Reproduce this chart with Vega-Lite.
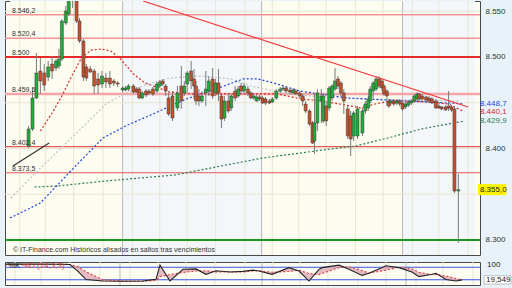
{
"$schema": "https://vega.github.io/schema/vega-lite/v6.json",
"background": "#e8f2f8",
"padding": {"left": 2, "top": 0, "right": 0, "bottom": 0},
"spacing": 4,
"config": {"view": {"stroke": "#4a4a4a", "strokeWidth": 1, "fill": "#fcfcf1"}, "font": "Liberation Sans",
 "axisY": {"grid": false, "ticks": false, "domain": false, "labelPadding": 5, "labelFontSize": 8, "labelColor": "#333"}},
"datasets": {
"candles": [
{"x":21,"o":8402.7,"h":8424.6,"l":8400.5,"c":8421.3},
{"x":25,"o":8421.3,"h":8465.0,"l":8419.1,"c":8455.2},
{"x":29,"o":8455.2,"h":8504.4,"l":8454.1,"c":8482.5},
{"x":33,"o":8484.7,"h":8498.9,"l":8459.6,"c":8473.8},
{"x":37,"o":8482.5,"h":8492.3,"l":8462.8,"c":8469.4},
{"x":41,"o":8478.1,"h":8495.6,"l":8473.8,"c":8489.1},
{"x":45,"o":8492.3,"h":8501.1,"l":8476.0,"c":8484.7},
{"x":49,"o":8488.0,"h":8497.8,"l":8484.7,"c":8495.6},
{"x":52,"o":8490.2,"h":8508.8,"l":8486.9,"c":8497.8},
{"x":55,"o":8497.8,"h":8541.5,"l":8495.6,"c":8539.3},
{"x":59,"o":8537.2,"h":8555.7,"l":8535.0,"c":8550.3},
{"x":62,"o":8547.0,"h":8572.0,"l":8544.8,"c":8566.0},
{"x":66,"o":8575.0,"h":8580.0,"l":8553.6,"c":8565.0},
{"x":70,"o":8561.0,"h":8566.0,"l":8537.2,"c":8539.3},
{"x":73,"o":8539.3,"h":8542.6,"l":8515.3,"c":8517.5},
{"x":77,"o":8517.5,"h":8519.7,"l":8473.8,"c":8478.1},
{"x":80,"o":8489.1,"h":8492.3,"l":8473.8,"c":8477.0},
{"x":84,"o":8486.9,"h":8490.2,"l":8482.5,"c":8483.6},
{"x":88,"o":8484.7,"h":8486.9,"l":8459.6,"c":8468.3},
{"x":92,"o":8476.0,"h":8482.5,"l":8459.6,"c":8469.4},
{"x":96,"o":8470.5,"h":8484.7,"l":8466.1,"c":8479.2},
{"x":100,"o":8477.0,"h":8482.5,"l":8466.1,"c":8472.7},
{"x":104,"o":8477.0,"h":8484.7,"l":8466.1,"c":8470.5},
{"x":108,"o":8473.8,"h":8476.0,"l":8468.3,"c":8471.6},
{"x":112,"o":8471.6,"h":8473.8,"l":8467.2,"c":8470.5},
{"x":117,"o":8463.9,"h":8468.3,"l":8461.7,"c":8466.1},
{"x":120,"o":8463.9,"h":8468.3,"l":8462.8,"c":8466.1},
{"x":123,"o":8465.0,"h":8470.5,"l":8462.8,"c":8468.3},
{"x":128,"o":8468.3,"h":8470.5,"l":8459.6,"c":8461.7},
{"x":131,"o":8465.0,"h":8467.2,"l":8460.7,"c":8461.7},
{"x":134,"o":8465.0,"h":8467.2,"l":8454.1,"c":8455.2},
{"x":137,"o":8455.2,"h":8462.8,"l":8454.1,"c":8460.7},
{"x":141,"o":8462.8,"h":8465.0,"l":8456.3,"c":8458.5},
{"x":144,"o":8462.8,"h":8465.0,"l":8458.5,"c":8460.7},
{"x":148,"o":8465.0,"h":8467.2,"l":8457.4,"c":8459.6},
{"x":152,"o":8462.8,"h":8472.7,"l":8460.7,"c":8470.5},
{"x":155,"o":8468.3,"h":8474.9,"l":8466.1,"c":8472.7},
{"x":158,"o":8473.8,"h":8476.0,"l":8468.3,"c":8470.5},
{"x":161,"o":8468.3,"h":8470.5,"l":8457.4,"c":8462.8},
{"x":164,"o":8455.2,"h":8460.7,"l":8435.5,"c":8437.7},
{"x":168,"o":8457.4,"h":8462.8,"l":8430.1,"c":8433.3},
{"x":173,"o":8444.3,"h":8468.3,"l":8441.0,"c":8460.7},
{"x":177,"o":8468.3,"h":8490.2,"l":8443.2,"c":8451.9},
{"x":180,"o":8460.7,"h":8473.8,"l":8457.4,"c":8468.3},
{"x":183,"o":8470.5,"h":8484.7,"l":8460.7,"c":8482.5},
{"x":187,"o":8484.7,"h":8495.6,"l":8465.0,"c":8473.8},
{"x":190,"o":8476.0,"h":8487.0,"l":8454.1,"c":8468.3},
{"x":192,"o":8468.3,"h":8473.8,"l":8447.5,"c":8451.9},
{"x":195,"o":8457.4,"h":8465.0,"l":8446.4,"c":8451.9},
{"x":198,"o":8451.9,"h":8462.8,"l":8449.7,"c":8457.4},
{"x":202,"o":8460.7,"h":8484.7,"l":8446.4,"c":8465.0},
{"x":205,"o":8462.8,"h":8479.2,"l":8457.4,"c":8473.8},
{"x":209,"o":8476.0,"h":8488.0,"l":8454.1,"c":8457.4},
{"x":212,"o":8460.7,"h":8476.0,"l":8457.4,"c":8471.6},
{"x":215,"o":8471.6,"h":8486.9,"l":8451.9,"c":8460.7},
{"x":218,"o":8457.4,"h":8460.7,"l":8422.4,"c":8432.2},
{"x":221,"o":8433.3,"h":8457.4,"l":8430.1,"c":8451.9},
{"x":225,"o":8451.9,"h":8460.7,"l":8438.8,"c":8441.0},
{"x":228,"o":8444.3,"h":8459.6,"l":8441.0,"c":8457.4},
{"x":232,"o":8462.8,"h":8468.3,"l":8451.9,"c":8455.2},
{"x":235,"o":8457.4,"h":8468.3,"l":8455.2,"c":8465.0},
{"x":238,"o":8468.3,"h":8471.6,"l":8459.6,"c":8462.8},
{"x":241,"o":8462.8,"h":8471.6,"l":8459.6,"c":8468.3},
{"x":245,"o":8465.0,"h":8468.3,"l":8457.4,"c":8460.7},
{"x":248,"o":8460.7,"h":8462.8,"l":8454.1,"c":8455.2},
{"x":251,"o":8455.2,"h":8459.6,"l":8453.0,"c":8457.4},
{"x":254,"o":8451.9,"h":8458.5,"l":8450.8,"c":8456.3},
{"x":257,"o":8456.3,"h":8458.5,"l":8451.9,"c":8454.1},
{"x":260,"o":8455.2,"h":8457.4,"l":8448.6,"c":8449.7},
{"x":263,"o":8454.1,"h":8456.3,"l":8447.5,"c":8449.7},
{"x":267,"o":8451.9,"h":8454.1,"l":8448.6,"c":8449.7},
{"x":270,"o":8450.8,"h":8456.3,"l":8449.7,"c":8454.1},
{"x":274,"o":8455.2,"h":8465.0,"l":8453.0,"c":8462.8},
{"x":278,"o":8462.8,"h":8467.2,"l":8460.7,"c":8465.0},
{"x":281,"o":8465.0,"h":8468.3,"l":8462.8,"c":8466.1},
{"x":284,"o":8466.1,"h":8468.3,"l":8460.7,"c":8462.8},
{"x":288,"o":8463.9,"h":8466.1,"l":8459.6,"c":8461.7},
{"x":291,"o":8460.7,"h":8466.1,"l":8459.6,"c":8463.9},
{"x":294,"o":8462.8,"h":8465.0,"l":8458.5,"c":8459.6},
{"x":298,"o":8460.7,"h":8462.8,"l":8455.2,"c":8457.4},
{"x":301,"o":8457.4,"h":8459.6,"l":8446.4,"c":8451.9},
{"x":304,"o":8448.6,"h":8451.9,"l":8438.8,"c":8441.0},
{"x":308,"o":8441.0,"h":8443.2,"l":8424.6,"c":8426.8},
{"x":311,"o":8427.9,"h":8430.1,"l":8404.9,"c":8406.0},
{"x":313,"o":8408.2,"h":8459.6,"l":8394.0,"c":8427.9},
{"x":316,"o":8427.9,"h":8465.0,"l":8419.1,"c":8460.7},
{"x":320,"o":8451.9,"h":8465.0,"l":8427.9,"c":8457.4},
{"x":322,"o":8430.1,"h":8460.7,"l":8427.9,"c":8457.4},
{"x":325,"o":8446.4,"h":8451.9,"l":8424.6,"c":8430.1},
{"x":328,"o":8444.3,"h":8468.3,"l":8441.0,"c":8466.1},
{"x":331,"o":8455.2,"h":8470.5,"l":8451.9,"c":8468.3},
{"x":334,"o":8465.0,"h":8488.0,"l":8462.8,"c":8473.8},
{"x":337,"o":8476.0,"h":8479.2,"l":8465.0,"c":8468.3},
{"x":340,"o":8471.6,"h":8473.8,"l":8457.4,"c":8460.7},
{"x":343,"o":8460.7,"h":8465.0,"l":8437.7,"c":8451.9},
{"x":347,"o":8443.2,"h":8446.4,"l":8410.4,"c":8413.7},
{"x":350,"o":8435.5,"h":8441.0,"l":8391.8,"c":8410.4},
{"x":353,"o":8413.7,"h":8441.0,"l":8408.2,"c":8438.8},
{"x":357,"o":8413.7,"h":8446.4,"l":8410.4,"c":8443.2},
{"x":362,"o":8416.9,"h":8444.3,"l":8413.7,"c":8441.0},
{"x":365,"o":8441.0,"h":8451.9,"l":8437.7,"c":8448.6},
{"x":368,"o":8444.3,"h":8457.4,"l":8441.0,"c":8454.1},
{"x":370,"o":8451.9,"h":8468.3,"l":8449.7,"c":8465.0},
{"x":373,"o":8462.8,"h":8473.8,"l":8455.2,"c":8471.6},
{"x":376,"o":8465.0,"h":8479.2,"l":8462.8,"c":8476.0},
{"x":379,"o":8476.0,"h":8479.2,"l":8466.1,"c":8468.3},
{"x":382,"o":8473.8,"h":8477.0,"l":8462.8,"c":8466.1},
{"x":384,"o":8468.3,"h":8470.5,"l":8457.4,"c":8459.6},
{"x":387,"o":8462.8,"h":8465.0,"l":8446.4,"c":8457.4},
{"x":389,"o":8451.9,"h":8454.1,"l":8444.3,"c":8446.4},
{"x":391,"o":8449.7,"h":8454.1,"l":8447.5,"c":8451.9},
{"x":394,"o":8451.9,"h":8454.1,"l":8446.4,"c":8448.6},
{"x":397,"o":8449.7,"h":8454.1,"l":8447.5,"c":8451.9},
{"x":400,"o":8451.9,"h":8454.1,"l":8446.4,"c":8448.6},
{"x":403,"o":8449.7,"h":8451.9,"l":8441.0,"c":8443.2},
{"x":406,"o":8445.4,"h":8450.8,"l":8443.2,"c":8448.6},
{"x":409,"o":8447.5,"h":8453.0,"l":8445.4,"c":8450.8},
{"x":412,"o":8449.7,"h":8454.1,"l":8447.5,"c":8451.9},
{"x":415,"o":8451.9,"h":8459.6,"l":8449.7,"c":8457.4},
{"x":418,"o":8454.1,"h":8461.7,"l":8451.9,"c":8459.6},
{"x":420,"o":8459.6,"h":8460.7,"l":8451.9,"c":8454.1},
{"x":423,"o":8457.4,"h":8459.6,"l":8451.9,"c":8454.1},
{"x":427,"o":8456.3,"h":8457.4,"l":8449.7,"c":8453.0},
{"x":430,"o":8455.2,"h":8457.4,"l":8449.7,"c":8451.9},
{"x":433,"o":8454.1,"h":8456.3,"l":8448.6,"c":8449.7},
{"x":437,"o":8451.9,"h":8454.1,"l":8443.2,"c":8444.3},
{"x":440,"o":8446.4,"h":8448.6,"l":8443.2,"c":8444.3},
{"x":443,"o":8445.4,"h":8446.4,"l":8442.1,"c":8443.2},
{"x":447,"o":8445.4,"h":8447.5,"l":8441.0,"c":8442.1},
{"x":450,"o":8446.4,"h":8462.8,"l":8441.0,"c":8444.3},
{"x":453,"o":8445.4,"h":8447.5,"l":8440.0,"c":8442.1},
{"x":456,"o":8443.2,"h":8446.4,"l":8351.3,"c":8353.5},
{"x":460,"o":8353.5,"h":8372.1,"l":8296.7,"c":8355.0}
],
"ma": [
{"s":"m3","x":3,"p":8345.9},{"s":"m3","x":30,"p":8375.4},{"s":"m3","x":67,"p":8413.7},{"s":"m3","x":100,"p":8448.6},{"s":"m3","x":120,"p":8460.7},{"s":"m3","x":140,"p":8469.4},{"s":"m3","x":165,"p":8477.0},{"s":"m3","x":198,"p":8479.2},{"s":"m3","x":228,"p":8476.0},{"s":"m3","x":248,"p":8468.3},{"s":"m3","x":280,"p":8460.7},{"s":"m3","x":318,"p":8456.3},{"s":"m3","x":360,"p":8454.1},{"s":"m3","x":410,"p":8453.0},{"s":"m3","x":460,"p":8451.9},
{"s":"m4","x":27,"p":8357.9},{"s":"m4","x":50,"p":8359.0},{"s":"m4","x":100,"p":8364.5},{"s":"m4","x":170,"p":8371.0},{"s":"m4","x":260,"p":8389.6},{"s":"m4","x":337,"p":8400.5},{"s":"m4","x":355,"p":8402.7},{"s":"m4","x":388,"p":8411.5},{"s":"m4","x":422,"p":8421.3},{"s":"m4","x":455,"p":8427.9},{"s":"m4","x":466,"p":8429.9},
{"s":"m2","x":2,"p":8324.0},{"s":"m2","x":33,"p":8340.4},{"s":"m2","x":67,"p":8378.7},{"s":"m2","x":97,"p":8411.5},{"s":"m2","x":120,"p":8424.6},{"s":"m2","x":148,"p":8437.7},{"s":"m2","x":182,"p":8454.1},{"s":"m2","x":215,"p":8466.1},{"s":"m2","x":240,"p":8476.0},{"s":"m2","x":255,"p":8476.0},{"s":"m2","x":275,"p":8470.5},{"s":"m2","x":298,"p":8462.8},{"s":"m2","x":318,"p":8459.6},{"s":"m2","x":348,"p":8455.2},{"s":"m2","x":368,"p":8454.1},{"s":"m2","x":405,"p":8451.9},{"s":"m2","x":452,"p":8449.7},{"s":"m2","x":466,"p":8448.7},
{"s":"m1","x":33,"p":8419.1},{"s":"m1","x":45,"p":8438.8},{"s":"m1","x":55,"p":8457.4},{"s":"m1","x":65,"p":8479.2},{"s":"m1","x":75,"p":8498.9},{"s":"m1","x":85,"p":8507.6},{"s":"m1","x":95,"p":8508.7},{"s":"m1","x":105,"p":8506.6},{"s":"m1","x":115,"p":8497.8},{"s":"m1","x":128,"p":8481.4},{"s":"m1","x":140,"p":8471.6},{"s":"m1","x":165,"p":8461.7},{"s":"m1","x":190,"p":8459.6},{"s":"m1","x":220,"p":8459.6},{"s":"m1","x":250,"p":8459.6},{"s":"m1","x":275,"p":8459.6},{"s":"m1","x":300,"p":8454.1},{"s":"m1","x":320,"p":8451.9},{"s":"m1","x":345,"p":8447.5},{"s":"m1","x":360,"p":8444.3},{"s":"m1","x":375,"p":8448.6},{"s":"m1","x":390,"p":8451.9},{"s":"m1","x":410,"p":8451.9},{"s":"m1","x":430,"p":8450.8},{"s":"m1","x":450,"p":8448.6},{"s":"m1","x":466,"p":8440.1}
],
"levels": [
{"p":8546.2,"label":"8.546,2","kind":"light"},
{"p":8520.4,"label":"8.520,4","kind":"light"},
{"p":8500,"label":"8.500","kind":"key"},
{"p":8459.5,"label":"8.459,5","kind":"band"},
{"p":8402.0,"label":"8.402,4","kind":"red"},
{"p":8373.5,"label":"8.373,5","kind":"red"},
{"p":8300,"label":"","kind":"support"}
],
"hgrid": [{"p":8300},{"p":8350},{"p":8400},{"p":8450},{"p":8500},{"p":8550}],
"vgrid": [{"x":12,"m":0},{"x":38,"m":0},{"x":67,"m":0},{"x":97,"m":0},{"x":117,"m":1},{"x":127,"m":0},{"x":155,"m":0},{"x":183,"m":0},{"x":212,"m":0},{"x":242,"m":0},{"x":259,"m":1},{"x":270,"m":0},{"x":297,"m":0},{"x":325,"m":0},{"x":355,"m":0},{"x":383,"m":0},{"x":403,"m":1},{"x":413,"m":0},{"x":440,"m":0},{"x":470,"m":0}],
"bands": [{"x0":2,"x1":117,"t":"c"},{"x0":117,"x1":259,"t":"b"},{"x0":259,"x1":403,"t":"c"},{"x0":403,"x1":477,"t":"b"}],
"trend": [{"x":138,"p":8561.2,"x2":470,"p2":8445.4,"t":"r"},{"x":5,"p":8380.9,"x2":42,"p2":8406.0,"t":"k"}],
"prices": [{"p":8448.7,"label":"8.448,7","s":"m2"},{"p":8440.1,"label":"8.440,1","s":"m1"},{"p":8429.9,"label":"8.429,9","s":"m4"}],
"last": [{"p":8355.0,"label":"8.355,0"}],
"stoch": [{"x":2,"k":95,"d":92},{"x":30,"k":95,"d":93},{"x":55,"k":94,"d":94},{"x":67,"k":93,"d":93},{"x":75,"k":60,"d":82},{"x":83,"k":21,"d":58},{"x":100,"k":14,"d":20},{"x":120,"k":13,"d":14},{"x":140,"k":14,"d":13},{"x":153,"k":22,"d":17},{"x":157,"k":90,"d":35},{"x":167,"k":14,"d":45},{"x":180,"k":70,"d":55},{"x":193,"k":72,"d":62},{"x":203,"k":46,"d":63},{"x":213,"k":63,"d":57},{"x":227,"k":57,"d":58},{"x":240,"k":60,"d":58},{"x":250,"k":66,"d":62},{"x":256,"k":62,"d":63},{"x":269,"k":46,"d":56},{"x":286,"k":78,"d":60},{"x":296,"k":62,"d":66},{"x":306,"k":14,"d":50},{"x":316,"k":70,"d":44},{"x":319,"k":78,"d":50},{"x":336,"k":90,"d":78},{"x":346,"k":70,"d":82},{"x":359,"k":41,"d":64},{"x":366,"k":51,"d":52},{"x":383,"k":87,"d":66},{"x":396,"k":78,"d":80},{"x":409,"k":57,"d":72},{"x":416,"k":35,"d":56},{"x":429,"k":46,"d":44},{"x":433,"k":51,"d":45},{"x":443,"k":21,"d":38},{"x":453,"k":14,"d":26},{"x":459,"k":19.5,"d":18}],
"stlev": [{"v":80},{"v":20}],
"stlabel": [{"t":"19,549","v":19.5}],
"mom": [{"t":"Mom (10)"}]
},
"vconcat": [
{
"width": 475, "height": 254,
"layer": [
{"data":{"name":"bands"},"mark":{"type":"rect"},
 "encoding":{"x":{"field":"x0","type":"quantitative","scale":{"domain":[2,477],"nice":false,"zero":false},"axis":null},"x2":{"field":"x1"},
 "color":{"condition":{"test":"datum.t === 'b'","value":"#f4f7fa"},"value":"#fcfcf0"}}},
{"data":{"name":"vgrid"},"mark":{"type":"rule","strokeWidth":1},
 "encoding":{"x":{"field":"x","type":"quantitative","scale":{"domain":[2,477],"nice":false,"zero":false},"axis":null},
 "color":{"condition":{"test":"datum.m === 1","value":"#b9b9b9"},"value":"#e9e5d1"}}},
{"data":{"name":"hgrid"},"mark":{"type":"rule","color":"#e9e5d1","strokeWidth":1},
 "encoding":{"y":{"field":"p","type":"quantitative","scale":{"domain":[8283.6,8561.2],"nice":false,"zero":false},
  "axis":{"orient":"right","values":[8300,8400,8500,8550],"labelExpr":"replace(format(datum.value, ','), ',', '.')","title":null}}}},
{"data":{"name":"levels"},"transform":[{"filter":"datum.kind === 'light'"}],"mark":{"type":"rule","color":"#f39393","strokeWidth":1.5},
 "encoding":{"y":{"field":"p","type":"quantitative","scale":{"domain":[8283.6,8561.2],"nice":false,"zero":false},"axis":{"orient":"right","values":[8300,8400,8500,8550],"labelExpr":"replace(format(datum.value, ','), ',', '.')","title":null}}}},
{"data":{"name":"levels"},"transform":[{"filter":"datum.kind === 'band'"}],"mark":{"type":"rule","color":"#f5a5a5","strokeWidth":2.5},
 "encoding":{"y":{"field":"p","type":"quantitative","scale":{"domain":[8283.6,8561.2],"nice":false,"zero":false},"axis":{"orient":"right","values":[8300,8400,8500,8550],"labelExpr":"replace(format(datum.value, ','), ',', '.')","title":null}}}},
{"data":{"name":"levels"},"transform":[{"filter":"datum.kind === 'key'"}],"mark":{"type":"rule","color":"#e62a2a","strokeWidth":2},
 "encoding":{"y":{"field":"p","type":"quantitative","scale":{"domain":[8283.6,8561.2],"nice":false,"zero":false},"axis":{"orient":"right","values":[8300,8400,8500,8550],"labelExpr":"replace(format(datum.value, ','), ',', '.')","title":null}}}},
{"data":{"name":"levels"},"transform":[{"filter":"datum.kind === 'red'"}],"mark":{"type":"rule","color":"#e05a5a","strokeWidth":1.2},
 "encoding":{"y":{"field":"p","type":"quantitative","scale":{"domain":[8283.6,8561.2],"nice":false,"zero":false},"axis":{"orient":"right","values":[8300,8400,8500,8550],"labelExpr":"replace(format(datum.value, ','), ',', '.')","title":null}}}},
{"data":{"name":"levels"},"transform":[{"filter":"datum.kind === 'support'"}],"mark":{"type":"rule","color":"#1c961c","strokeWidth":2},
 "encoding":{"y":{"field":"p","type":"quantitative","scale":{"domain":[8283.6,8561.2],"nice":false,"zero":false},"axis":{"orient":"right","values":[8300,8400,8500,8550],"labelExpr":"replace(format(datum.value, ','), ',', '.')","title":null}}}},
{"data":{"name":"ma"},"mark":{"type":"line","strokeDash":[2,2],"strokeWidth":1.2,"clip":true},
 "encoding":{"x":{"field":"x","type":"quantitative","scale":{"domain":[2,477],"nice":false,"zero":false},"axis":null},
 "y":{"field":"p","type":"quantitative","scale":{"domain":[8283.6,8561.2],"nice":false,"zero":false},"axis":{"orient":"right","values":[8300,8400,8500,8550],"labelExpr":"replace(format(datum.value, ','), ',', '.')","title":null}},
 "color":{"field":"s","type":"nominal","scale":{"domain":["m1","m2","m3","m4"],"range":["#d42a2a","#2446d8","#c2c2c2","#2e7d4f"]},"legend":null},
 "detail":{"field":"s"}}},
{"data":{"name":"candles"},"mark":{"type":"rule","color":"#7a7a7a","strokeWidth":1,"clip":true},
 "encoding":{"x":{"field":"x","type":"quantitative","scale":{"domain":[2,477],"nice":false,"zero":false},"axis":null},
 "y":{"field":"h","type":"quantitative","scale":{"domain":[8283.6,8561.2],"nice":false,"zero":false},"axis":{"orient":"right","values":[8300,8400,8500,8550],"labelExpr":"replace(format(datum.value, ','), ',', '.')","title":null}},
 "y2":{"field":"l"}}},
{"data":{"name":"candles"},"mark":{"type":"bar","width":3,"stroke":"#3a3a3a","strokeWidth":0.5,"clip":true},
 "encoding":{"x":{"field":"x","type":"quantitative","scale":{"domain":[2,477],"nice":false,"zero":false},"axis":null},
 "y":{"field":"o","type":"quantitative","scale":{"domain":[8283.6,8561.2],"nice":false,"zero":false},"axis":{"orient":"right","values":[8300,8400,8500,8550],"labelExpr":"replace(format(datum.value, ','), ',', '.')","title":null}},
 "y2":{"field":"c"},
 "color":{"condition":{"test":"datum.c >= datum.o","value":"#22aa3a"},"value":"#c4502c"}}},
{"data":{"name":"trend"},"mark":{"type":"rule","strokeWidth":1.2,"clip":true},
 "encoding":{"x":{"field":"x","type":"quantitative","scale":{"domain":[2,477],"nice":false,"zero":false},"axis":null},
 "y":{"field":"p","type":"quantitative","scale":{"domain":[8283.6,8561.2],"nice":false,"zero":false},"axis":{"orient":"right","values":[8300,8400,8500,8550],"labelExpr":"replace(format(datum.value, ','), ',', '.')","title":null}},
 "x2":{"field":"x2"},"y2":{"field":"p2"},
 "color":{"condition":{"test":"datum.t === 'k'","value":"#333333"},"value":"#f03c3c"}}},
{"data":{"name":"levels"},"transform":[{"filter":"datum.label !== ''"}],"mark":{"type":"text","align":"left","baseline":"bottom","dy":-1,"fontSize":7,"color":"#333"},
 "encoding":{"x":{"datum":4,"type":"quantitative","scale":{"domain":[2,477],"nice":false,"zero":false},"axis":null},
 "y":{"field":"p","type":"quantitative","scale":{"domain":[8283.6,8561.2],"nice":false,"zero":false},"axis":{"orient":"right","values":[8300,8400,8500,8550],"labelExpr":"replace(format(datum.value, ','), ',', '.')","title":null}},
 "text":{"field":"label"}}},
{"data":{"name":"prices"},"mark":{"type":"text","align":"left","baseline":"middle","fontSize":8},
 "encoding":{"x":{"datum":482,"type":"quantitative","scale":{"domain":[2,477],"nice":false,"zero":false},"axis":null},
 "y":{"field":"p","type":"quantitative","scale":{"domain":[8283.6,8561.2],"nice":false,"zero":false},"axis":{"orient":"right","values":[8300,8400,8500,8550],"labelExpr":"replace(format(datum.value, ','), ',', '.')","title":null}},
 "text":{"field":"label"},
 "color":{"field":"s","type":"nominal","scale":{"domain":["m1","m2","m3","m4"],"range":["#d42a2a","#2446d8","#c2c2c2","#2e7d4f"]},"legend":null}}},
{"data":{"name":"last"},"mark":{"type":"rect","color":"#fff200"},
 "encoding":{"x":{"datum":480,"type":"quantitative","scale":{"domain":[2,477],"nice":false,"zero":false},"axis":null},
 "x2":{"datum":509},
 "y":{"datum":8349.0,"type":"quantitative","scale":{"domain":[8283.6,8561.2],"nice":false,"zero":false},"axis":{"orient":"right","values":[8300,8400,8500,8550],"labelExpr":"replace(format(datum.value, ','), ',', '.')","title":null}},
 "y2":{"datum":8361.0}}},
{"data":{"name":"last"},"mark":{"type":"text","align":"left","baseline":"middle","fontSize":8,"color":"#222"},
 "encoding":{"x":{"datum":482,"type":"quantitative","scale":{"domain":[2,477],"nice":false,"zero":false},"axis":null},
 "y":{"field":"p","type":"quantitative","scale":{"domain":[8283.6,8561.2],"nice":false,"zero":false},"axis":{"orient":"right","values":[8300,8400,8500,8550],"labelExpr":"replace(format(datum.value, ','), ',', '.')","title":null}},
 "text":{"field":"label"}}},
{"data":{"values":[{"t":"© IT-Finance.com  Históricos alisados en saltos tras vencimientos"}]},"mark":{"type":"text","align":"left","baseline":"middle","fontSize":7,"color":"#333"},
 "encoding":{"x":{"datum":5,"type":"quantitative","scale":{"domain":[2,477],"nice":false,"zero":false},"axis":null},
 "y":{"datum":8289.3,"type":"quantitative","scale":{"domain":[8283.6,8561.2],"nice":false,"zero":false},"axis":{"orient":"right","values":[8300,8400,8500,8550],"labelExpr":"replace(format(datum.value, ','), ',', '.')","title":null}},
 "text":{"field":"t"}}}
]
},
{
"width": 475, "height": 23,
"layer": [
{"data":{"name":"vgrid"},"mark":{"type":"rule","strokeWidth":1},
 "encoding":{"x":{"field":"x","type":"quantitative","scale":{"domain":[2,477],"nice":false,"zero":false},"axis":null},
 "color":{"condition":{"test":"datum.m === 1","value":"#b9b9b9"},"value":"#e9e5d1"}}},
{"data":{"name":"stlev"},"mark":{"type":"rule","color":"#3a55e0","strokeWidth":1.2},
 "encoding":{"y":{"field":"v","type":"quantitative","scale":{"domain":[-5,105],"nice":false,"zero":false},"axis":null}}},
{"data":{"name":"stoch"},"mark":{"type":"area","color":"#dcaab8","opacity":0.8},
 "encoding":{"x":{"field":"x","type":"quantitative","scale":{"domain":[2,477],"nice":false,"zero":false},"axis":null},
 "y":{"field":"k","type":"quantitative","scale":{"domain":[-5,105],"nice":false,"zero":false},"axis":null},
 "y2":{"field":"d"}}},
{"data":{"name":"stoch"},"mark":{"type":"line","color":"#e04848","strokeDash":[2,2],"strokeWidth":1.2},
 "encoding":{"x":{"field":"x","type":"quantitative","scale":{"domain":[2,477],"nice":false,"zero":false},"axis":null},
 "y":{"field":"d","type":"quantitative","scale":{"domain":[-5,105],"nice":false,"zero":false},"axis":null}}},
{"data":{"name":"stoch"},"mark":{"type":"line","color":"#222","strokeWidth":1.1},
 "encoding":{"x":{"field":"x","type":"quantitative","scale":{"domain":[2,477],"nice":false,"zero":false},"axis":null},
 "y":{"field":"k","type":"quantitative","scale":{"domain":[-5,105],"nice":false,"zero":false},"axis":null}}},
{"data":{"values":[{"t":"%K"}]},"mark":{"type":"text","align":"left","baseline":"middle","fontSize":8,"color":"#222"},
 "encoding":{"x":{"datum":5,"type":"quantitative","scale":{"domain":[2,477],"nice":false,"zero":false},"axis":null},
 "y":{"datum":88,"type":"quantitative","scale":{"domain":[-5,105],"nice":false,"zero":false},"axis":null},
 "text":{"field":"t"}}},
{"data":{"values":[{"t":"%D (14,3,3)"}]},"mark":{"type":"text","align":"left","baseline":"middle","fontSize":8,"color":"#e04848"},
 "encoding":{"x":{"datum":19,"type":"quantitative","scale":{"domain":[2,477],"nice":false,"zero":false},"axis":null},
 "y":{"datum":88,"type":"quantitative","scale":{"domain":[-5,105],"nice":false,"zero":false},"axis":null},
 "text":{"field":"t"}}},
{"data":{"values":[{"t":"100"}]},"mark":{"type":"text","align":"left","baseline":"middle","fontSize":8,"color":"#222"},
 "encoding":{"x":{"datum":484,"type":"quantitative","scale":{"domain":[2,477],"nice":false,"zero":false},"axis":null},
 "y":{"datum":90,"type":"quantitative","scale":{"domain":[-5,105],"nice":false,"zero":false},"axis":null},
 "text":{"field":"t"}}},
{"data":{"name":"stlabel"},"mark":{"type":"rect","color":"#ffffff","stroke":"#888","strokeWidth":0.5},
 "encoding":{"x":{"datum":481,"type":"quantitative","scale":{"domain":[2,477],"nice":false,"zero":false},"axis":null},
 "x2":{"datum":508},
 "y":{"datum":0,"type":"quantitative","scale":{"domain":[-5,105],"nice":false,"zero":false},"axis":null},
 "y2":{"datum":39}}},
{"data":{"name":"stlabel"},"mark":{"type":"text","align":"left","baseline":"middle","fontSize":8,"color":"#222"},
 "encoding":{"x":{"datum":483,"type":"quantitative","scale":{"domain":[2,477],"nice":false,"zero":false},"axis":null},
 "y":{"field":"v","type":"quantitative","scale":{"domain":[-5,105],"nice":false,"zero":false},"axis":null},
 "text":{"field":"t"}}}
]
},
{
"width": 475, "height": 12,
"data": {"name": "mom"},
"mark": {"type":"text","align":"left","baseline":"top","fontSize":6,"color":"#333"},
"encoding": {"x":{"datum":5,"type":"quantitative","scale":{"domain":[2,477],"nice":false,"zero":false},"axis":null},
 "y":{"datum":10,"type":"quantitative","scale":{"domain":[0,10],"nice":false,"zero":false},"axis":null},
 "text":{"field":"t"}}
}
]
}
